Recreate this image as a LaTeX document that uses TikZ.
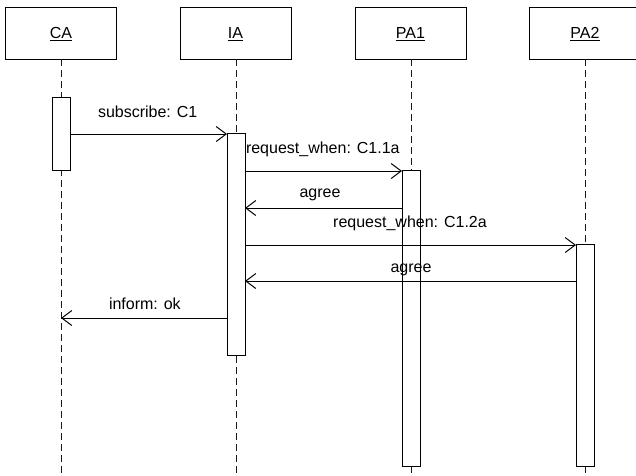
\documentclass[tikz,border=0pt]{standalone}
\usepackage{fontspec}
\setmainfont{Liberation Sans}
\usetikzlibrary{arrows.meta}
\newcommand{\ul}[1]{\tikz[baseline=(t.base)]{\node[inner sep=0pt,outer sep=0pt] (t) {#1};\draw[line width=1pt] ([yshift=-2.3pt]t.base west) -- ([yshift=-2.3pt]t.base east);}}
\begin{document}
\begin{tikzpicture}[x=1pt,y=-1pt,
  font=\fontsize{16}{19}\selectfont,
  every node/.style={inner sep=0pt,outer sep=0pt},
  head/.style={draw,line width=1pt,fill=white,minimum width=111pt,minimum height=52pt},
  act/.style={draw,line width=1pt,fill=white,minimum width=18pt},
  life/.style={line width=1pt,dash pattern=on 7pt off 4pt,black!90},
  msg/.style={line width=1pt,-{Straight Barb[length=10pt,width=15pt,line width=1pt]}},
  lbl/.style={anchor=base}]
\clip (0,0) rectangle (636,475);
\fill[white] (0,0) rectangle (636,475);
% headers
\node[head] (CA)  at (61,33)    {};
\node[head] (IA)  at (235.5,33) {};
\node[head] (PA1) at (410.5,33) {};
\node[head] (PA2) at (585,33)   {};
\node[lbl] (tCA)  at (61,38)    {\ul{CA}};
\node[lbl] (tIA)  at (235.5,38) {\ul{IA}};
\node[lbl] (tPA1) at (410.5,38) {\ul{PA1}};
\node[lbl] (tPA2) at (585,38)   {\ul{PA2}};
% lifeline ends
\coordinate (eCA)  at (61,478);
\coordinate (eIA)  at (236,478);
\coordinate (ePA1) at (411,478);
\coordinate (ePA2) at (585,478);
\draw[life] (CA.south)  -- (eCA);
\draw[life] (IA.south -| eIA) -- (eIA);
\draw[life] (PA1.south -| ePA1) -- (ePA1);
\draw[life] (PA2.south) -- (ePA2);
% activations
\node[act,minimum height=73pt]  (aCA)  at (61,133.5) {};
\node[act,minimum height=222pt] (aIA)  at (236,244)  {};
\node[act,minimum height=296pt] (aPA1) at (411,318)  {};
\node[act,minimum height=222pt] (aPA2) at (585,355)  {};
% messages
\draw[msg] (aCA.east |- 0,134) -- (aIA.west |- 0,134);
\draw[msg] (aIA.east |- 0,171) -- (aPA1.west |- 0,171);
\draw[msg] (aPA1.west |- 0,208) -- (aIA.east |- 0,208);
\draw[msg] (aIA.east |- 0,245) -- (aPA2.west |- 0,245);
\draw[msg] (aPA2.west |- 0,281) -- (aIA.east |- 0,281);
\draw[msg] (aIA.west |- 0,318) -- (CA.south |- 0,318);
% labels
\node[anchor=base west] (l1) at (98,117)  {subscribe: C1};
\node[anchor=base west] (l2) at (246,153) {request\_when: C1.1a};
\node[anchor=base]      (l3) at (320,197) {agree};
\node[anchor=base]      (l4) at (410,227) {request\_when: C1.2a};
\node[anchor=base]      (l5) at (411,272) {agree};
\node[anchor=base west] (l6) at (109,309) {inform: ok};
\end{tikzpicture}
\end{document}
